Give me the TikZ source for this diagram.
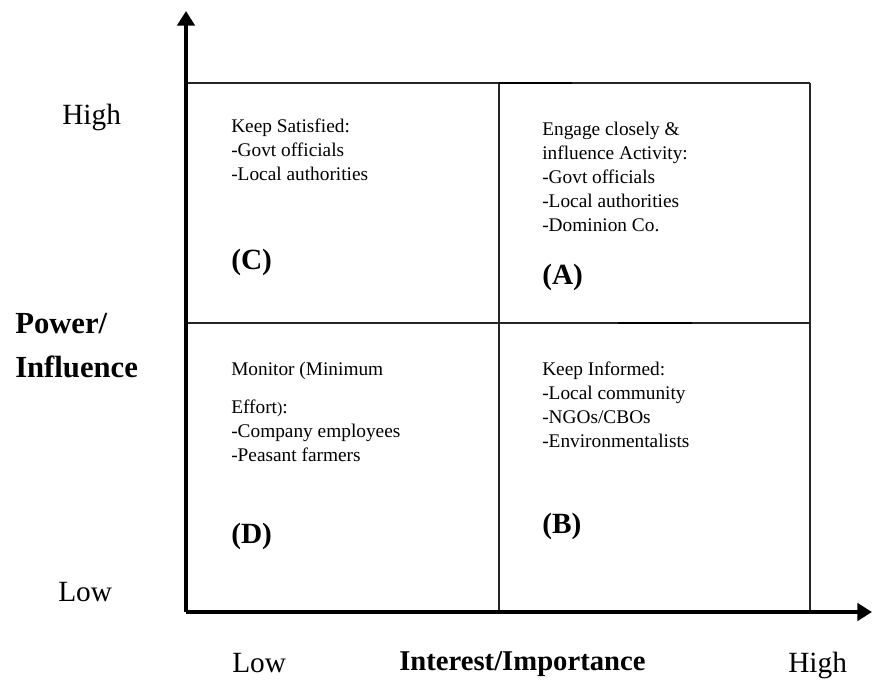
\documentclass[tikz,border=0pt]{standalone}
\usepackage{fontspec}
\setmainfont{Liberation Serif}
\usetikzlibrary{arrows.meta}

\tikzset{
  gridline/.style = {line width=0.9pt, black!85},
  markline/.style = {line width=1.8pt, black},
  axisline/.style = {line width=3pt, black, -{Triangle[length=11pt,width=13pt]}},
  boxtext/.style  = {anchor=north west, align=left, inner sep=0pt, font=\fontsize{14.5}{18}\selectfont},
  quadtag/.style  = {anchor=base west, inner sep=0pt, font=\fontsize{22}{26}\selectfont\bfseries},
  scalelabel/.style = {anchor=base west, inner sep=0pt, font=\fontsize{22}{26}\selectfont},
  axistitle/.style = {anchor=base west, inner sep=0pt, align=left, font=\fontsize{23}{33}\selectfont\bfseries}
}

\begin{document}
\begin{tikzpicture}[x=0.75pt, y=-0.75pt]
  \useasboundingbox (0,0) rectangle (872,682);

  % axes
  \coordinate (origin) at (186,612);
  \coordinate (ytip) at (186,11);
  \coordinate (xtip) at (872,612);

  % grid
  \draw [gridline] (186,83) -- (810,83);
  \draw [gridline] (186,323) -- (810,323);
  \draw [gridline] (499,83) -- (499,612);
  \draw [gridline] (810,83) -- (810,612);
  \draw [markline] (499,83) -- (572,83);
  \draw [markline] (618,323) -- (692,323);

  \draw [axisline] (origin) -- (ytip);
  \draw [axisline] (origin) -- (xtip);

  % quadrant texts
  \node [boxtext] (keepsat) at (231,119) {Keep Satisfied:\\-Govt officials\\-Local authorities};
  \node [quadtag] (tagC) at (231,269) {(C)};
  \node [boxtext] (engage) at (542,122) {Engage closely \&\\influence Activity:\\-Govt officials\\-Local authorities\\-Dominion Co.};
  \node [quadtag] (tagA) at (542,284) {(A)};
  \node [boxtext] (monitor) at (231,362) {Monitor (Minimum\\[10pt]Effort{\large)}:\\-Company employees\\-Peasant farmers};
  \node [quadtag] (tagD) at (231,543) {(D)};
  \node [boxtext] (informed) at (542,362) {Keep Informed:\\-Local community\\-NGOs/CBOs\\-Environmentalists};
  \node [quadtag] (tagB) at (542,533) {(B)};

  % axis labels
  \node [scalelabel] (yhigh) at (62,124) {High};
  \node [scalelabel] (ylow) at (58,601) {Low};
  \node [axistitle] (ytitle) at (15,377) {Power/\\Influence};
  \node [scalelabel] (xlow) at (232,672) {Low};
  \node [axistitle, font=\fontsize{21.5}{26}\selectfont\bfseries] (xtitle) at (399,670) {Interest/Importance};
  \node [scalelabel] (xhigh) at (788,672) {High};
\end{tikzpicture}
\end{document}
